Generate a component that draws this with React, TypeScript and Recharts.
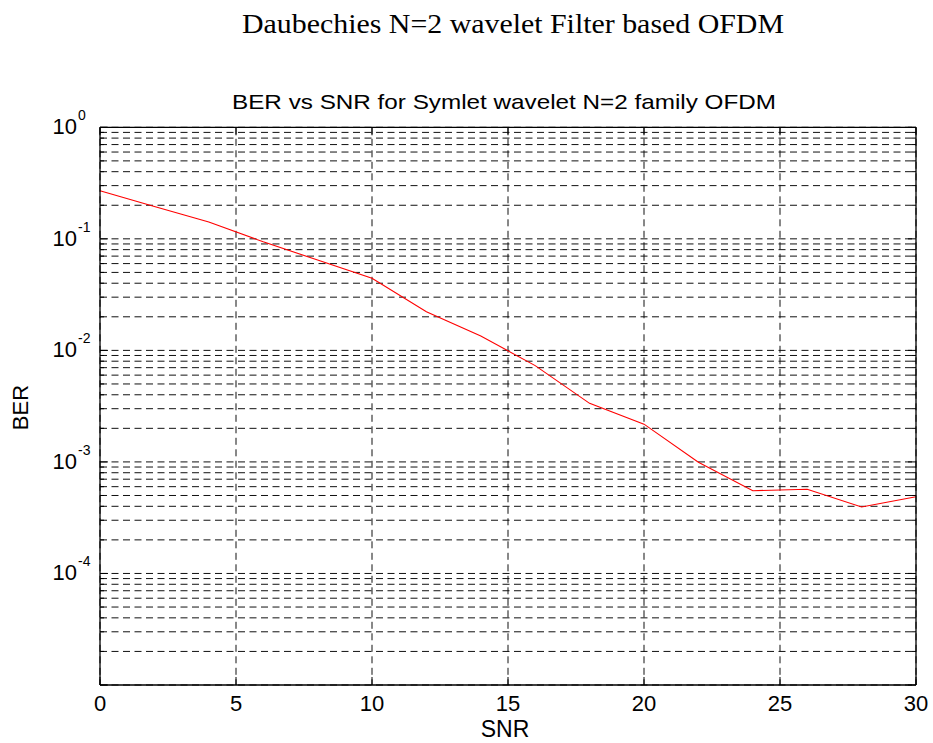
import React from 'react';
import { LineChart, Line, XAxis, YAxis, CartesianGrid } from 'recharts';

const snrValues = [0, 2, 4, 6, 8, 10, 12, 14, 16, 18, 20, 22, 24, 26, 28, 30];
const berValues = [
  0.27, 0.195, 0.1416, 0.094, 0.0646, 0.0443, 0.0222, 0.01345, 0.0073, 0.00335,
  0.00218, 0.000993, 0.000552, 0.000569, 0.000394, 0.000488,
];
const xTickValues = [0, 5, 10, 15, 20, 25, 30];
const decadeExponents = [-5, -4, -3, -2, -1];
const minorMultipliers = [1, 2, 3, 4, 5, 6, 7, 8, 9];
const labeledExponents = [-4, -3, -2, -1, 0];

const yTickValues = [
  ...decadeExponents.flatMap((e) => minorMultipliers.map((m) => m * Math.pow(10, e))),
  1,
];

const data = snrValues.map((s, i) => ({ snr: s, ber: berValues[i] }));

const FONT = 'Liberation Sans, Arial, Helvetica, sans-serif';

const decadeInfo = (v: number) => {
  const lg = Math.log10(v);
  const e = Math.round(lg);
  return { e, decade: Math.abs(lg - e) < 1e-6 };
};

const LeftTick = (props: any) => {
  const { x, y, payload } = props;
  const { e, decade } = decadeInfo(payload.value);
  const len = decade ? 8 : 4;
  return (
    <g>
      <line x1={x} y1={y} x2={x + len} y2={y} stroke="#000" strokeWidth={1} />
      {decade && labeledExponents.includes(e) && (
        <g>
          <text x={x - 23} y={y + 7} fontSize={22} fontFamily={FONT} textAnchor="end" fill="#000">
            10
          </text>
          <text x={x - 22} y={y - 7} fontSize={14} fontFamily={FONT} textAnchor="start" fill="#000">
            {String(e)}
          </text>
        </g>
      )}
    </g>
  );
};

const RightTick = (props: any) => {
  const { x, y, payload } = props;
  const { decade } = decadeInfo(payload.value);
  const len = decade ? 8 : 4;
  return <line x1={x} y1={y} x2={x - len} y2={y} stroke="#000" strokeWidth={1} />;
};

const BottomTick = (props: any) => {
  const { x, y, payload } = props;
  return (
    <g>
      <line x1={x} y1={y} x2={x} y2={y - 8} stroke="#000" strokeWidth={1} />
      <text x={x} y={y + 25.7} fontSize={22} fontFamily={FONT} textAnchor="middle" fill="#000">
        {String(payload.value)}
      </text>
    </g>
  );
};

const TopTick = (props: any) => {
  const { x, y } = props;
  return <line x1={x} y1={y} x2={x} y2={y + 8} stroke="#000" strokeWidth={1} />;
};

export default function App() {
  return (
    <div style={{ position: 'absolute', left: 0, top: 0, width: 933, height: 743, background: '#fff' }}>
      <LineChart
        width={933}
        height={743}
        data={data}
        margin={{ top: 117.3, right: 7, bottom: 18, left: 40 }}
      >
        <CartesianGrid stroke="#111" strokeWidth={1} strokeDasharray="7 4.5" />
        <XAxis
          type="number"
          dataKey="snr"
          domain={[0, 30]}
          ticks={xTickValues}
          interval={0}
          height={40}
          tickSize={0}
          tickMargin={0}
          tickLine={false}
          axisLine={{ stroke: '#000', strokeWidth: 1.3 }}
          tick={<BottomTick />}
        />
        <XAxis
          xAxisId="top"
          orientation="top"
          type="number"
          dataKey="snr"
          domain={[0, 30]}
          ticks={xTickValues}
          interval={0}
          height={10}
          tickSize={0}
          tickMargin={0}
          tickLine={false}
          axisLine={{ stroke: '#000', strokeWidth: 1.3 }}
          tick={<TopTick />}
          allowDataOverflow
        />
        <YAxis
          type="number"
          scale="log"
          domain={[1e-5, 1]}
          ticks={yTickValues}
          interval={0}
          width={60}
          tickSize={0}
          tickMargin={0}
          tickLine={false}
          allowDataOverflow
          axisLine={{ stroke: '#000', strokeWidth: 1.3 }}
          tick={<LeftTick />}
        />
        <YAxis
          yAxisId="right"
          orientation="right"
          type="number"
          scale="log"
          domain={[1e-5, 1]}
          ticks={yTickValues}
          interval={0}
          width={10}
          tickSize={0}
          tickMargin={0}
          tickLine={false}
          allowDataOverflow
          axisLine={{ stroke: '#000', strokeWidth: 1.3 }}
          tick={<RightTick />}
        />
        <Line
          type="linear"
          dataKey="ber"
          stroke="#ff0000"
          strokeWidth={1.1}
          dot={false}
          isAnimationActive={false}
        />
      </LineChart>
      <svg
        width={933}
        height={743}
        style={{ position: 'absolute', left: 0, top: 0, pointerEvents: 'none' }}
      >
        <text
          x={242}
          y={33.3}
          fontSize={28}
          fontFamily="Liberation Serif, Times New Roman, serif"
          textLength={542}
          lengthAdjust="spacingAndGlyphs"
          fill="#000"
        >
          Daubechies N=2 wavelet Filter based OFDM
        </text>
        <text
          x={232}
          y={109.3}
          fontSize={21}
          fontFamily={FONT}
          textLength={544}
          lengthAdjust="spacingAndGlyphs"
          fill="#000"
        >
          BER vs SNR for Symlet wavelet N=2 family OFDM
        </text>
        <text x={505} y={737} fontSize={23} fontFamily={FONT} textAnchor="middle" fill="#000">
          SNR
        </text>
        <text
          x={28.3}
          y={407.5}
          fontSize={22}
          fontFamily={FONT}
          textAnchor="middle"
          transform="rotate(-90 28.3 407.5)"
          fill="#000"
        >
          BER
        </text>
      </svg>
    </div>
  );
}
